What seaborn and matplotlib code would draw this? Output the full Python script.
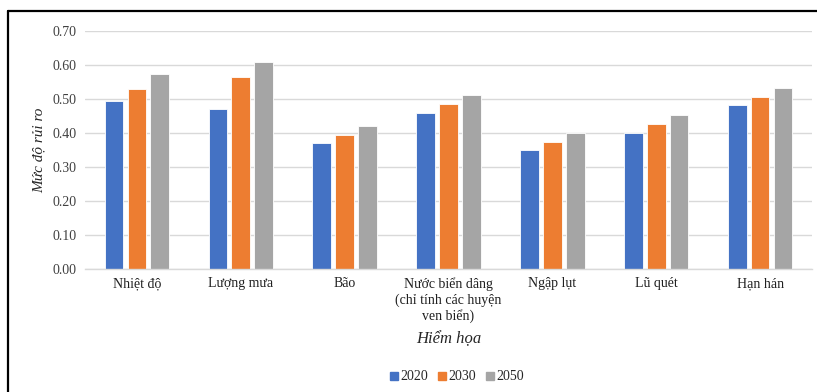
import matplotlib; matplotlib.use('Agg')
import matplotlib.pyplot as plt
from matplotlib.lines import Line2D
import seaborn as sns
import pandas as pd

# data
hazards = ['Nhiệt độ', 'Lượng mưa', 'Bão',
           'Nước biển dâng\n(chỉ tính các huyện\nven biển)',
           'Ngập lụt', 'Lũ quét', 'Hạn hán']
years = ['2020', '2030', '2050']
risk_2020 = [0.495, 0.470, 0.370, 0.460, 0.350, 0.400, 0.481]
risk_2030 = [0.530, 0.564, 0.395, 0.484, 0.374, 0.426, 0.507]
risk_2050 = [0.573, 0.609, 0.420, 0.511, 0.399, 0.452, 0.532]

df = pd.DataFrame({
    'hazard': hazards * 3,
    'year': [y for y in years for _ in hazards],
    'risk': risk_2020 + risk_2030 + risk_2050,
})

sns.set_theme(style='white')
plt.rcParams['font.family'] = ['Liberation Serif', 'DejaVu Serif']

PALETTE = ['#4472C4', '#ED7D31', '#A5A5A5']

fig = plt.figure(figsize=(8.17, 3.92), dpi=100)
ax = fig.add_axes([85 / 817, 1 - 269 / 392, 727 / 817, 238 / 392])

sns.barplot(data=df, x='hazard', y='risk', hue='year', palette=PALETTE,
            saturation=1, width=0.66, gap=0.18, edgecolor='white',
            linewidth=0.6, ax=ax)

ax.set_ylim(0, 0.70)
ax.set_yticks([i / 10 for i in range(8)])
ax.set_yticklabels([f'{i / 10:.2f}' for i in range(8)], fontsize=10, color='#404040')
ax.set_xlim(-0.5, len(hazards) - 0.5)
ax.tick_params(axis='x', labelsize=10, colors='#202020', length=0, pad=6)
ax.tick_params(axis='y', length=0, pad=6)
ax.grid(True, axis='y', color='#D9D9D9', lw=1)
ax.set_axisbelow(True)
for s in ['top', 'right', 'left']:
    ax.spines[s].set_visible(False)
ax.spines['bottom'].set_color('#D9D9D9')
ax.spines['bottom'].set_linewidth(1)

ax.set_ylabel('Mức độ rủi ro', fontsize=11, style='italic', labelpad=5)
ax.set_xlabel('Hiểm họa', fontsize=12, style='italic', labelpad=6)

ax.get_legend().remove()
handles = [Line2D([], [], marker='s', ls='none', color=c, markersize=6) for c in PALETTE]
fig.legend(handles, years, loc='center', bbox_to_anchor=(456 / 817, 1 - 377 / 392),
           ncol=3, frameon=False, fontsize=10, handletextpad=0.05, columnspacing=0.6,
           handlelength=0.8)

# outer frame lines (top and left)
fig.add_artist(Line2D([8 / 817, 1], [1 - 10.5 / 392, 1 - 10.5 / 392],
                      transform=fig.transFigure, color='black', lw=1.6))
fig.add_artist(Line2D([8 / 817, 8 / 817], [0, 1 - 10.5 / 392],
                      transform=fig.transFigure, color='black', lw=1.6))

fig.savefig('out.png', dpi=100, facecolor='white')
